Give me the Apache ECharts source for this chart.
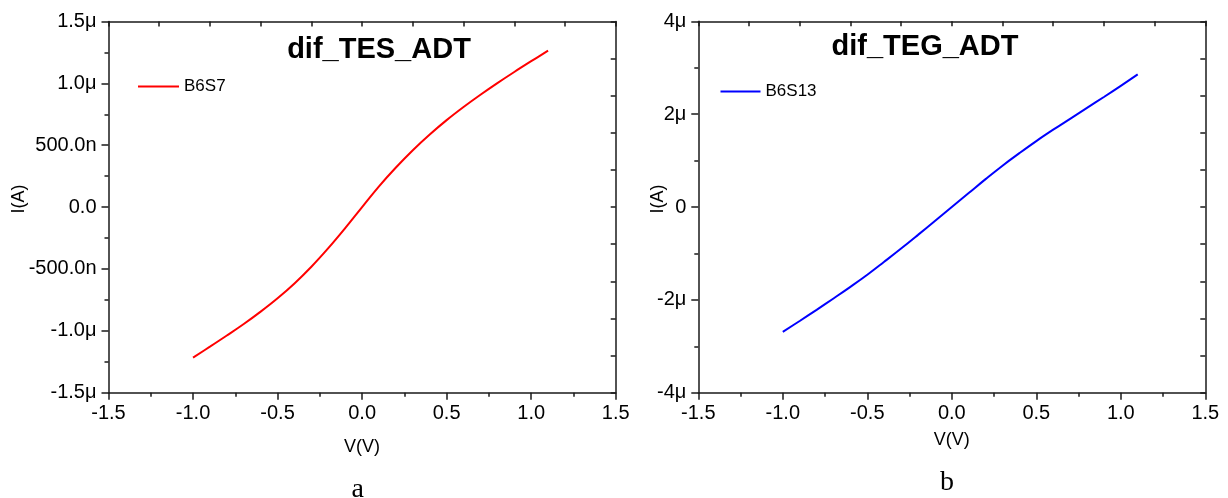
<!DOCTYPE html>
<html>
<head>
<meta charset="utf-8">
<script src="https://cdn.jsdelivr.net/npm/echarts@6/dist/echarts.min.js"></script>
<style>
html,body{margin:0;padding:0;background:#fff;}
#c{width:1228px;height:498px;}
</style>
</head>
<body>
<div id="c"></div>
<script>
// ---- data (V in volts, I in microamps) ----
const voltsA = [-1.0,-0.9,-0.8,-0.7,-0.6,-0.5,-0.4,-0.3,-0.2,-0.1,0.0,0.1,0.2,0.3,0.4,0.5,0.6,0.7,0.8,0.9,1.0,1.1];
const currentA = [-1.216,-1.128,-1.038,-0.945,-0.845,-0.737,-0.617,-0.482,-0.332,-0.170,0.0,0.168,0.320,0.460,0.587,0.703,0.809,0.908,1.002,1.092,1.179,1.264];
const voltsB = [-1.0,-0.9,-0.8,-0.7,-0.6,-0.5,-0.4,-0.3,-0.2,-0.1,0.0,0.1,0.2,0.3,0.4,0.5,0.6,0.7,0.8,0.9,1.0,1.1];
const currentB = [-2.69,-2.455,-2.215,-1.97,-1.72,-1.46,-1.18,-0.895,-0.60,-0.30,0.0,0.30,0.60,0.89,1.16,1.42,1.665,1.90,2.135,2.37,2.61,2.857];

const seriesNameA = 'B6S7';
const seriesNameB = 'B6S13';
const titleA = 'dif_TES_ADT';
const titleB = 'dif_TEG_ADT';

const xTicks = [-1.5,-1.0,-0.5,0.0,0.5,1.0,1.5];
const xTickLabels = ['-1.5','-1.0','-0.5','0.0','0.5','1.0','1.5'];
const yTicksA = [-1.5,-1.0,-0.5,0.0,0.5,1.0,1.5];
const yTickLabelsA = ['-1.5μ','-1.0μ','-500.0n','0.0','500.0n','1.0μ','1.5μ'];
const yTicksB = [-4,-2,0,2,4];
const yTickLabelsB = ['-4μ','-2μ','0','2μ','4μ'];

function lookup(ticks, labels){
  return function(v){
    for (let i=0;i<ticks.length;i++){ if (Math.abs(ticks[i]-v)<1e-9) return labels[i]; }
    return '';
  };
}
const pairs = (xs, ys) => xs.map((x,i)=>[x, ys[i]]);

const FONT = 'Liberation Sans';
const AXC = '#1a1a1a';

function bottomX(grid){
  return {
    gridIndex: grid, type:'value', position:'bottom', min:-1.5, max:1.5, interval:0.5,
    name:'V(V)', nameLocation:'middle', nameGap: grid===0 ? 45 : 38, nameMoveOverlap:false,
    nameTextStyle:{fontFamily:FONT,fontSize:18,color:'#000'},
    axisLine:{show:true,onZero:false,lineStyle:{color:AXC,width:1.5}},
    axisTick:{show:true,inside:false,length:7,lineStyle:{color:AXC,width:1.5}},
    minorTick:{show:true,splitNumber:2,length:4,lineStyle:{color:AXC,width:1.5}},
    axisLabel:{margin:11,fontFamily:FONT,fontSize:20,color:'#000',formatter:lookup(xTicks,xTickLabels)},
    splitLine:{show:false}
  };
}
function topX(grid){
  return {
    gridIndex: grid, type:'value', position:'top', min:-1.5, max:1.5, interval:0.3,
    axisLine:{show:true,onZero:false,lineStyle:{color:AXC,width:1.5}},
    axisTick:{show:true,inside:true,length:5,lineStyle:{color:AXC,width:1.5}},
    axisLabel:{show:false}, splitLine:{show:false}
  };
}
function leftY(grid, mn, mx, iv, ticks, labels){
  return {
    gridIndex: grid, type:'value', position:'left', min:mn, max:mx, interval:iv,
    name:'I(A)', nameLocation:'middle', nameRotate:90, nameGap: grid===0 ? 80 : 31, nameMoveOverlap:false,
    nameTextStyle:{fontFamily:FONT,fontSize:18,color:'#000',padding:[0,0,0,16]},
    axisLine:{show:true,onZero:false,lineStyle:{color:AXC,width:1.5}},
    axisTick:{show:true,inside:false,length:7,lineStyle:{color:AXC,width:1.5}},
    minorTick:{show:true,splitNumber:2,length:4,lineStyle:{color:AXC,width:1.5}},
    axisLabel:{margin:12,fontFamily:FONT,fontSize:20,color:'#000',formatter:lookup(ticks,labels)},
    splitLine:{show:false}
  };
}
function rightY(grid, mn, mx, iv){
  return {
    gridIndex: grid, type:'value', position:'right', min:mn, max:mx, interval:iv,
    axisLine:{show:true,onZero:false,lineStyle:{color:AXC,width:1.5}},
    axisTick:{show:true,inside:true,length:5,lineStyle:{color:AXC,width:1.5}},
    axisLabel:{show:false}, splitLine:{show:false}
  };
}

const chart = echarts.init(document.getElementById('c'), null, {renderer:'canvas'});
chart.setOption({
  backgroundColor:'#fff',
  animation:false,
  title:[
    {text:titleA, left:379, top:35, textAlign:'center', padding:0,
     textStyle:{fontFamily:FONT,fontSize:29,fontWeight:'bold',color:'#000'}},
    {text:titleB, left:925, top:32, textAlign:'center', padding:0,
     textStyle:{fontFamily:FONT,fontSize:29,fontWeight:'bold',color:'#000'}}
  ],
  legend:[
    {data:[{name:seriesNameA, icon:'rect'}], left:138, top:78, padding:0, itemWidth:41, itemHeight:2, itemGap:5,
     textStyle:{fontFamily:FONT,fontSize:17,color:'#000'}},
    {data:[{name:seriesNameB, icon:'rect'}], left:720.5, top:83, padding:0, itemWidth:40, itemHeight:2, itemGap:5,
     textStyle:{fontFamily:FONT,fontSize:17,color:'#000'}}
  ],
  grid:[
    {left:108.5, top:21.5, width:507.2, height:371.2},
    {left:698.3, top:21.3, width:507, height:371.4}
  ],
  xAxis:[bottomX(0), topX(0), bottomX(1), topX(1)],
  yAxis:[
    leftY(0,-1.5,1.5,0.5,yTicksA,yTickLabelsA), rightY(0,-1.5,1.5,0.3),
    leftY(1,-4,4,2,yTicksB,yTickLabelsB), rightY(1,-4,4,0.8)
  ],
  series:[
    {name:seriesNameA, type:'line', xAxisIndex:0, yAxisIndex:0, data:pairs(voltsA,currentA),
     smooth:0.4, symbol:'none', lineStyle:{color:'#ff0000',width:2}, itemStyle:{color:'#ff0000'}},
    {name:seriesNameB, type:'line', xAxisIndex:2, yAxisIndex:2, data:pairs(voltsB,currentB),
     smooth:0.4, symbol:'none', lineStyle:{color:'#0000ff',width:2}, itemStyle:{color:'#0000ff'}}
  ],
  graphic:[
    {type:'text', left:359.5-8, top:476, style:{text:'a', font:'28px "Liberation Serif"', fill:'#000'}},
    {type:'text', left:948-8, top:469, style:{text:'b', font:'28px "Liberation Serif"', fill:'#000'}}
  ]
});
</script>
</body>
</html>
